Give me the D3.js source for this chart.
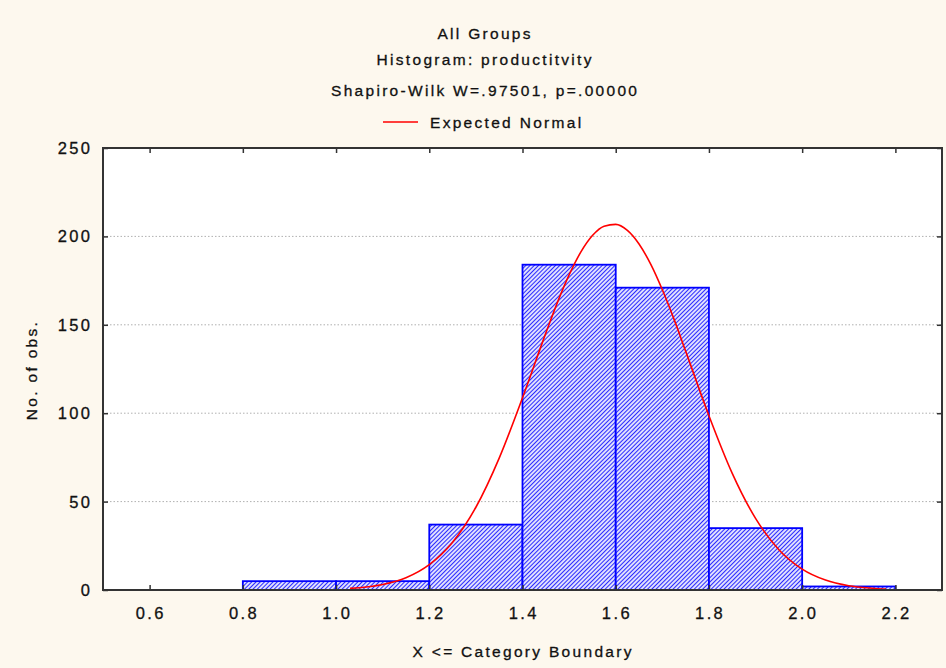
<!DOCTYPE html>
<html>
<head>
<meta charset="utf-8">
<script src="https://cdn.jsdelivr.net/npm/d3@7"></script>
<style>
  html, body { margin: 0; padding: 0; background: #fdf8ee; }
  svg { display: block; }
  text { font-family: "Liberation Sans", Arial, sans-serif; fill: #111; stroke: #111; stroke-width: 0.3px; }
</style>
</head>
<body>
<svg id="chart" width="946" height="668"></svg>
<script>
// ---- data ----
const binLower = [0.8, 1.0, 1.2, 1.4, 1.6, 1.8, 2.0];
const binUpper = [1.0, 1.2, 1.4, 1.6, 1.8, 2.0, 2.2];
const counts   = [5, 5, 37, 184, 171, 35, 2];

const curveX = [1.03, 1.05, 1.10, 1.15, 1.20, 1.25, 1.30, 1.35, 1.40, 1.45, 1.475, 1.50, 1.525, 1.55,
                1.575, 1.60, 1.625, 1.65, 1.675, 1.70, 1.725, 1.75, 1.80, 1.85, 1.90, 1.95, 2.00,
                2.05, 2.10, 2.15, 2.18];
const curveY = [0.9, 1.3, 3.1, 6.9, 14.3, 27.0, 46.8, 74.6, 108.7, 145.3, 162.7, 178.2, 191.1, 200.5,
                205.8, 206.8, 203.4, 195.7, 184.3, 169.8, 153.2, 135.1, 98.6, 66.0, 40.5, 22.8, 11.8,
                5.6, 2.4, 1.0, 0.5];

const xTicks = [0.6, 0.8, 1.0, 1.2, 1.4, 1.6, 1.8, 2.0, 2.2];
const yTicks = [0, 50, 100, 150, 200, 250];
const gridTicks = [50, 100, 150, 200];

const titles = ["All Groups", "Histogram: productitvity", "Shapiro-Wilk W=.97501, p=.00000"];
const legendLabel = "Expected Normal";
const xTitle = "X <= Category Boundary";
const yTitle = "No. of obs.";

// ---- layout ----
const svg = d3.select("#chart");
const L = 103, R = 942, T = 148, B = 590;
const x = d3.scaleLinear().domain([0.5, 2.3]).range([L, R]);
const y = d3.scaleLinear().domain([0, 250]).range([B, T]);

// hatch pattern
const defs = svg.append("defs");
const pat = defs.append("pattern")
  .attr("id", "hatch").attr("patternUnits", "userSpaceOnUse")
  .attr("width", 3).attr("height", 10)
  .attr("patternTransform", "rotate(45)");
pat.append("rect").attr("width", 3).attr("height", 10).attr("fill", "#fff");
pat.append("line").attr("x1", 1.5).attr("y1", -1).attr("x2", 1.5).attr("y2", 11)
  .attr("stroke", "#2a2aff").attr("stroke-width", 1.3);

defs.append("clipPath").attr("id", "plotclip")
  .append("rect").attr("x", L).attr("y", T - 2).attr("width", R - L).attr("height", B - T + 4);

// plot background
svg.append("rect").attr("x", L).attr("y", T).attr("width", R - L).attr("height", B - T)
  .attr("fill", "#fff");

// gridlines
svg.append("g").selectAll("line").data(gridTicks).join("line")
  .attr("x1", L).attr("x2", R)
  .attr("y1", d => y(d)).attr("y2", d => y(d))
  .attr("stroke", "#b0b0b0").attr("stroke-width", 1)
  .attr("stroke-dasharray", "1.5,2");

// bars
const bars = binLower.map((lo, i) => ({ lo, hi: binUpper[i], c: counts[i] }));
svg.append("g").selectAll("rect").data(bars).join("rect")
  .attr("x", d => x(d.lo)).attr("width", d => x(d.hi) - x(d.lo))
  .attr("y", d => y(d.c)).attr("height", d => y(0) - y(d.c))
  .attr("fill", "url(#hatch)")
  .attr("stroke", "#0000ff").attr("stroke-width", 1.8);

// curve
const line = d3.line().x(d => x(d)).y((d, i) => y(curveY[i])).curve(d3.curveMonotoneX);
svg.append("path").datum(curveX).attr("d", line)
  .attr("fill", "none").attr("stroke", "#ff0000").attr("stroke-width", 1.6)
  .attr("clip-path", "url(#plotclip)");

// plot frame
svg.append("rect").attr("x", L).attr("y", T).attr("width", R - L).attr("height", B - T)
  .attr("fill", "none").attr("stroke", "#333").attr("stroke-width", 2);

// ticks (inside) using d3 axes
const tickStyle = g => {
  g.select(".domain").remove();
  g.selectAll(".tick line").attr("stroke", "#333").attr("stroke-width", 1.5);
};
svg.append("g").attr("transform", `translate(0,${B})`)
  .call(d3.axisTop(x).tickValues(xTicks).tickSize(5).tickFormat(""))
  .call(tickStyle);
svg.append("g").attr("transform", `translate(0,${T})`)
  .call(d3.axisBottom(x).tickValues(xTicks).tickSize(5).tickFormat(""))
  .call(tickStyle);
svg.append("g").attr("transform", `translate(${L},0)`)
  .call(d3.axisRight(y).tickValues(yTicks).tickSize(5).tickFormat(""))
  .call(tickStyle);
svg.append("g").attr("transform", `translate(${R},0)`)
  .call(d3.axisLeft(y).tickValues(yTicks).tickSize(5).tickFormat(""))
  .call(tickStyle);

// tick labels
const lblFont = 16.5, lblLS = 2.4;
svg.append("g").selectAll("text").data(xTicks).join("text")
  .attr("x", d => x(d) + lblLS / 2).attr("y", 619)
  .attr("text-anchor", "middle")
  .style("font-size", lblFont + "px").style("letter-spacing", lblLS + "px")
  .text(d => d.toFixed(1));
svg.append("g").selectAll("text").data(yTicks).join("text")
  .attr("x", 90 + lblLS).attr("y", d => y(d) + 6)
  .attr("text-anchor", "end")
  .style("font-size", lblFont + "px").style("letter-spacing", lblLS + "px")
  .text(d => d);

// titles
const tFont = 15.5, tLS = 2.3;
const titleY = [39, 65, 96];
svg.append("g").selectAll("text").data(titles).join("text")
  .attr("x", 484 + tLS / 2).attr("y", (d, i) => titleY[i])
  .attr("text-anchor", "middle")
  .style("font-size", tFont + "px").style("letter-spacing", tLS + "px")
  .text(d => d);

// legend
svg.append("line").attr("x1", 383).attr("x2", 418).attr("y1", 122).attr("y2", 122)
  .attr("stroke", "#ff0000").attr("stroke-width", 1.5);
svg.append("text").attr("x", 430).attr("y", 127.5)
  .style("font-size", tFont + "px").style("letter-spacing", tLS + "px")
  .text(legendLabel);

// axis titles
svg.append("text").attr("x", 522 + tLS / 2).attr("y", 657)
  .attr("text-anchor", "middle")
  .style("font-size", tFont + "px").style("letter-spacing", tLS + "px")
  .text(xTitle);
svg.append("text").attr("transform", "translate(37,370) rotate(-90)")
  .attr("text-anchor", "middle")
  .style("font-size", tFont + "px").style("letter-spacing", tLS + "px")
  .text(yTitle);
</script>
</body>
</html>
